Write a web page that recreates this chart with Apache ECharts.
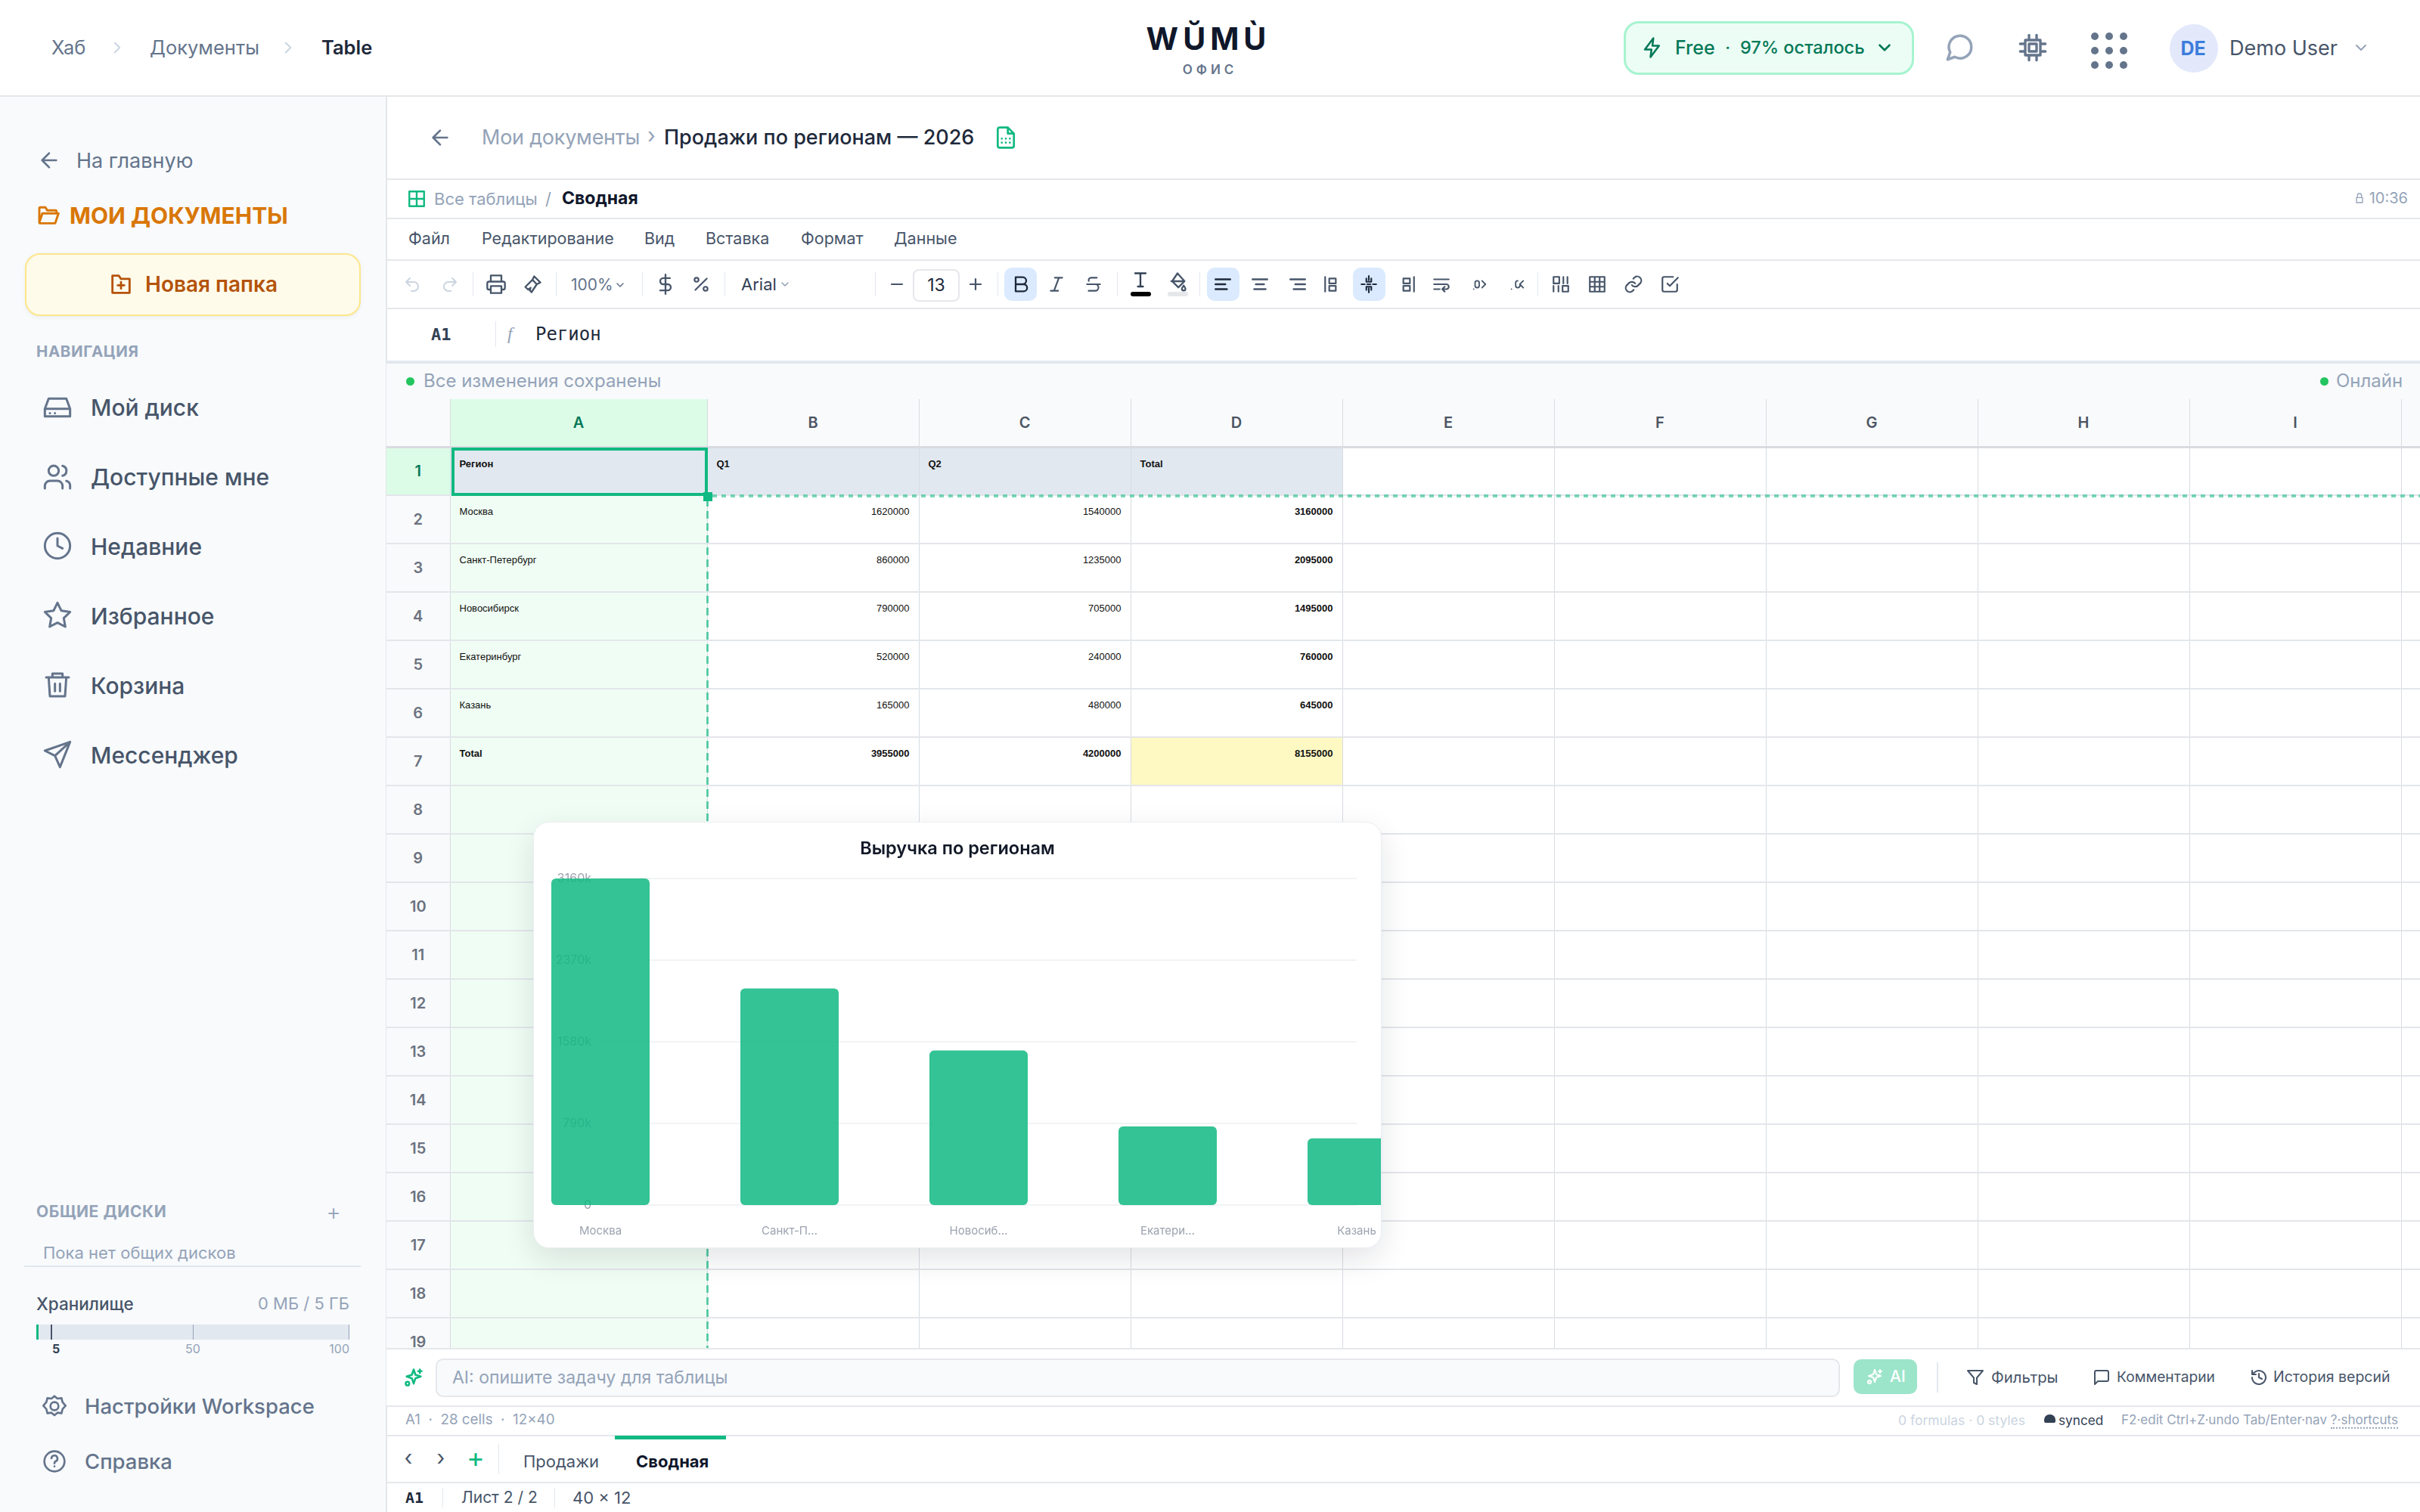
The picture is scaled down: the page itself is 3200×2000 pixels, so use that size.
<!DOCTYPE html>
<html lang="ru">
<head>
<meta charset="utf-8">
<title>Продажи по регионам — 2026</title>
<script src="https://cdn.jsdelivr.net/npm/echarts@6/dist/echarts.min.js"></script>
<style>
html,body{margin:0;padding:0;background:#fff}
body{width:3200px;height:2000px;overflow:hidden;position:relative;font-family:Inter,"Noto Sans",sans-serif;color:#475569}
.b{position:absolute;box-sizing:border-box}
.t{position:absolute;white-space:nowrap;transform:translateY(-50%);line-height:1.2}
.r{transform:translate(-100%,-50%)}
.c{transform:translate(-50%,-50%)}
.hl{position:absolute;left:0;right:0;height:2px;background:#e5e7eb}
#sheet{position:absolute;left:511px;top:528px;width:2689px;height:1256px;overflow:hidden;background:#fff}
#sheet table{border-collapse:collapse;table-layout:fixed;width:2944px}
#sheet td,#sheet th{box-sizing:border-box;height:64px;padding:0;border-right:1px solid #d8dce1;border-bottom:2px solid #e3e6ea;font-family:"Liberation Sans",Arial,sans-serif;font-size:13px;color:#111;vertical-align:top;overflow:hidden;font-weight:400}
#sheet td div{padding:13px 12px 0;line-height:16px}
#sheet th.col{height:63px;background:#f9fafb;font:600 20px Inter,sans-serif;color:#4b5563;vertical-align:middle;text-align:center;border-bottom:3px solid #d8dce1}
#sheet th.row{background:#f9fafb;font:600 20px Inter,sans-serif;color:#6b7280;vertical-align:middle;text-align:center}
#sheet th.on{background:#dcfce7;color:#047857}
#sheet td.a{background:#f0fdf4}
#sheet td.head{background:#e2e8f0;font-weight:700}
#sheet td.num{text-align:right}
#sheet td.bold{font-weight:700}
#sheet td.note{background:#fef9c3}
#card{position:absolute;left:706px;top:1088px;width:1120px;height:562px;background:#fff;border-radius:20px;overflow:hidden;box-shadow:0 0 0 1px #eceef2,0 14px 40px rgba(15,23,42,.12)}
#chart{width:1120px;height:562px}
</style>
</head>
<body>

<!-- top bar -->
<div class="hl" style="top:126px"></div>
<div class="t" style="left:68px;top:63px;font-size:25.500px;color:#64748b">Хаб</div>
<div class="t" style="left:198px;top:63px;font-size:25.500px;color:#64748b">Документы</div>
<div class="t" style="left:425px;top:63px;font-size:25.500px;font-weight:600;color:#1e293b">Table</div>
<div class="t c" style="left:1598px;top:52px;font-size:41px;font-weight:700;letter-spacing:6px;color:#0f172a">WŬMÙ</div>
<div class="t c" style="left:1600px;top:92px;font-size:17px;font-weight:600;letter-spacing:5px;color:#64748b">ОФИС</div>
<div class="b" style="left:2147px;top:28px;width:384px;height:71px;background:#ecfdf5;border:3px solid #a7f3d0;border-radius:20px"></div>
<div class="t" style="left:2215px;top:63px;font-size:25px;font-weight:500;color:#047857">Free</div>
<div class="t" style="left:2281px;top:63px;font-size:25px;color:#047857">·</div>
<div class="t" style="left:2301px;top:63px;font-size:23.500px;font-weight:500;color:#047857">97% осталось</div>
<div class="b" style="left:2869px;top:32px;width:64px;height:64px;border-radius:50%;background:#e3e9fb"></div>
<div class="t c" style="left:2900px;top:64px;font-size:25px;font-weight:700;color:#3b7ddd">DE</div>
<div class="t" style="left:2948px;top:64px;font-size:27px;color:#475569">Demo User</div>

<!-- sidebar -->
<div class="b" style="left:0;top:128px;width:512px;height:1872px;background:#f8fafc;border-right:2px solid #e5e7eb"></div>
<div class="t" style="left:101px;top:213px;font-size:27px;color:#64748b">На главную</div>
<div class="t" style="left:92px;top:285px;font-size:30px;font-weight:700;color:#d97706">МОИ ДОКУМЕНТЫ</div>
<div class="b" style="left:33px;top:335px;width:444px;height:83px;background:#fffbeb;border:2px solid #fde68a;border-radius:20px;box-shadow:0 2px 6px rgba(0,0,0,.05)"></div>
<div class="t" style="left:192px;top:377px;font-size:28px;font-weight:600;color:#b45309">Новая папка</div>
<div class="t" style="left:48px;top:465px;font-size:20.500px;font-weight:700;letter-spacing:.6px;color:#94a3b8">НАВИГАЦИЯ</div>
<div class="t" style="left:120px;top:539px;font-size:30px;font-weight:500">Мой диск</div>
<div class="t" style="left:120px;top:631px;font-size:30px;font-weight:500">Доступные мне</div>
<div class="t" style="left:120px;top:723px;font-size:30px;font-weight:500">Недавние</div>
<div class="t" style="left:120px;top:815px;font-size:30px;font-weight:500">Избранное</div>
<div class="t" style="left:120px;top:907px;font-size:30px;font-weight:500">Корзина</div>
<div class="t" style="left:120px;top:999px;font-size:30px;font-weight:500">Мессенджер</div>
<div class="t" style="left:48px;top:1603px;font-size:21px;font-weight:700;letter-spacing:.6px;color:#94a3b8">ОБЩИЕ ДИСКИ</div>
<div class="t c" style="left:441px;top:1603px;font-size:30px;font-weight:300;color:#94a3b8">+</div>
<div class="t" style="left:57px;top:1657px;font-size:22px;color:#94a3b8">Пока нет общих дисков</div>
<div class="b" style="left:32px;top:1674px;width:445px;height:2px;background:#e2e8f0"></div>
<div class="t" style="left:48px;top:1724px;font-size:22.500px;font-weight:500">Хранилище</div>
<div class="t r" style="left:462px;top:1724px;font-size:22px;color:#94a3b8">0 МБ / 5 ГБ</div>
<div class="b" style="left:48px;top:1752px;width:414px;height:20px;background:#e2e8f0"></div>
<div class="b" style="left:48px;top:1752px;width:3px;height:20px;background:#10b981"></div>
<div class="b" style="left:67px;top:1752px;width:2px;height:20px;background:#475569"></div>
<div class="b" style="left:255px;top:1752px;width:1px;height:20px;background:#94a3b8"></div>
<div class="b" style="left:461px;top:1752px;width:1px;height:20px;background:#94a3b8"></div>
<div class="t c" style="left:74px;top:1785px;font-size:16px;font-weight:700;color:#334155">5</div>
<div class="t c" style="left:255px;top:1785px;font-size:16px;color:#94a3b8">50</div>
<div class="t r" style="left:462px;top:1785px;font-size:16px;color:#94a3b8">100</div>
<div class="t" style="left:112px;top:1860px;font-size:27.500px;font-weight:500;color:#64748b">Настройки Workspace</div>
<div class="t" style="left:112px;top:1933px;font-size:27.500px;font-weight:500;color:#64748b">Справка</div>

<!-- document header -->
<div class="t" style="left:637px;top:182px;font-size:27px;letter-spacing:-.25px;color:#94a3b8">Мои документы</div>
<div class="t" style="left:856px;top:180px;font-size:28px;color:#94a3b8">›</div>
<div class="t" style="left:878px;top:182px;font-size:27px;font-weight:500;color:#1e293b">Продажи по регионам — 2026</div>
<div class="b" style="left:511px;top:236px;right:0;height:2px;background:#e5e7eb"></div>
<div class="t" style="left:574px;top:263px;font-size:22px;color:#94a3b8">Все таблицы</div>
<div class="t" style="left:721px;top:263px;font-size:22px;color:#94a3b8">/</div>
<div class="t" style="left:743px;top:263px;font-size:23px;font-weight:700;color:#0f172a">Сводная</div>
<div class="t r" style="left:3184px;top:262px;font-size:20px;color:#94a3b8">10:36</div>
<div class="b" style="left:511px;top:288px;right:0;height:2px;background:#e5e7eb"></div>
<div class="t" style="left:540px;top:316px;font-size:21.500px">Файл</div>
<div class="t" style="left:637px;top:316px;font-size:21.500px">Редактирование</div>
<div class="t" style="left:852px;top:316px;font-size:21.500px">Вид</div>
<div class="t" style="left:933px;top:316px;font-size:21.500px">Вставка</div>
<div class="t" style="left:1059px;top:316px;font-size:21.500px">Формат</div>
<div class="t" style="left:1182px;top:316px;font-size:21.500px">Данные</div>
<div class="b" style="left:511px;top:343px;right:0;height:2px;background:#e5e7eb"></div>
<div class="t" style="left:755px;top:377px;font-size:21px;color:#64748b">100%</div>
<div class="t" style="left:980px;top:376px;font-size:22px;color:#334155">Arial</div>
<div class="b" style="left:1207px;top:356px;width:62px;height:43px;border:2px solid #e5e7eb;border-radius:8px"></div>
<div class="t c" style="left:1238px;top:378px;font-size:23px;color:#1e293b">13</div>
<div class="b" style="left:1328px;top:354px;width:43px;height:44px;background:#dbeafe;border-radius:10px"></div>
<div class="b" style="left:1596px;top:354px;width:43px;height:44px;background:#dbeafe;border-radius:10px"></div>
<div class="b" style="left:1789px;top:354px;width:43px;height:44px;background:#dbeafe;border-radius:10px"></div>
<div class="b" style="left:511px;top:407px;right:0;height:2px;background:#e5e7eb"></div>
<div class="t" style="left:570px;top:442px;font:700 22px 'DejaVu Sans Mono',monospace;color:#334155;transform:translateY(-50%)">A1</div>
<div class="b" style="left:655px;top:425px;width:1px;height:34px;background:#e2e8f0"></div>
<div class="t" style="left:671px;top:441px;font:italic 24px 'Liberation Serif',serif;color:#94a3b8;transform:translateY(-50%)">f</div>
<div class="t" style="left:708px;top:442px;font:24px 'DejaVu Sans Mono',monospace;color:#1e293b;transform:translateY(-50%)">Регион</div>
<div class="b" style="left:511px;top:477px;right:0;height:51px;background:#f8fafc;border-top:4px solid #e2e8f0"></div>
<div class="b" style="left:537px;top:499px;width:11px;height:11px;border-radius:50%;background:#22c55e"></div>
<div class="t" style="left:560px;top:504px;font-size:24px;color:#94a3b8">Все изменения сохранены</div>
<div class="b" style="left:3068px;top:499px;width:11px;height:11px;border-radius:50%;background:#22c55e"></div>
<div class="t" style="left:3089px;top:504px;font-size:24px;color:#94a3b8">Онлайн</div>

<!-- sheet -->
<div id="sheet"></div>
<div class="b" style="left:597px;top:592px;width:339px;height:64px;border:4px solid #10b981"></div>
<div class="b" style="left:934px;top:660px;width:3px;height:1124px;background:repeating-linear-gradient(to bottom,rgba(16,185,129,.65) 0 10px,transparent 10px 16px)"></div>
<div class="b" style="left:942px;top:654px;right:0;height:4px;background:repeating-linear-gradient(to right,rgba(16,185,129,.55) 0 6px,transparent 6px 12px)"></div>
<div class="b" style="left:930px;top:651px;width:12px;height:12px;background:#10b981"></div>

<!-- chart card -->
<div id="card"><div id="chart"></div></div>

<!-- ai row -->
<div class="b" style="left:511px;top:1783px;right:0;height:78px;background:#fff;border-top:2px solid #e5e7eb;border-bottom:2px solid #e5e7eb"></div>
<div class="b" style="left:576px;top:1797px;width:1857px;height:51px;background:#f8fafc;border:2px solid #e5e7eb;border-radius:10px"></div>
<div class="t" style="left:598px;top:1823px;font-size:23px;color:#94a3b8">AI: опишите задачу для таблицы</div>
<div class="b" style="left:2451px;top:1798px;width:84px;height:46px;background:#9ce5cb;border-radius:10px"></div>
<div class="t" style="left:2499px;top:1821px;font-size:21px;font-weight:500;color:#fff">AI</div>
<div class="b" style="left:2561px;top:1802px;width:2px;height:40px;background:#e2e8f0"></div>
<div class="t" style="left:2633px;top:1822px;font-size:20.300px">Фильтры</div>
<div class="t" style="left:2799px;top:1822px;font-size:19.200px">Комментарии</div>
<div class="t" style="left:3006px;top:1822px;font-size:19.500px">История версий</div>

<!-- status row -->
<div class="t" style="left:536px;top:1878px;font-size:18.800px;color:#94a3b8">A1 &nbsp;·&nbsp; 28 cells &nbsp;·&nbsp; 12×40</div>
<div class="t" style="left:2510px;top:1878px;font-size:17.500px;color:#cbd5e1">0 formulas · 0 styles</div>
<div class="b" style="left:2703px;top:1871px;width:15px;height:11px;background:#334155;border-radius:7px 7px 2px 2px"></div>
<div class="t" style="left:2722px;top:1879px;font-size:17.200px;color:#334155">synced</div>
<div class="t" style="left:2805px;top:1878px;font-size:17.050px;color:#94a3b8">F2·edit Ctrl+Z·undo Tab/Enter·nav <span style="border-bottom:2px dotted #94a3b8">?·shortcuts</span></div>
<div class="b" style="left:511px;top:1898px;right:0;height:2px;background:#e5e7eb"></div>

<!-- tabs -->
<div class="b" style="left:813px;top:1899px;width:147px;height:5px;background:#10b981"></div>
<div class="t c" style="left:540px;top:1929px;font-size:28px;color:#475569">‹</div>
<div class="t c" style="left:583px;top:1929px;font-size:28px;color:#475569">›</div>
<div class="t c" style="left:629px;top:1929px;font-size:36px;color:#10b981">+</div>
<div class="b" style="left:659px;top:1910px;width:1px;height:40px;background:#e2e8f0"></div>
<div class="t" style="left:692px;top:1933px;font-size:22px">Продажи</div>
<div class="t" style="left:841px;top:1933px;font-size:22px;font-weight:700;color:#0f172a">Сводная</div>
<div class="b" style="left:511px;top:1960px;right:0;height:2px;background:#e5e7eb"></div>
<div class="t" style="left:536px;top:1981px;font:700 20px 'DejaVu Sans Mono',monospace;color:#1e293b;transform:translateY(-50%)">A1</div>
<div class="b" style="left:585px;top:1968px;width:1px;height:26px;background:#e2e8f0"></div>
<div class="t" style="left:610px;top:1981px;font-size:21px">Лист 2 / 2</div>
<div class="b" style="left:733px;top:1968px;width:1px;height:26px;background:#e2e8f0"></div>
<div class="t" style="left:757px;top:1981px;font-size:22px">40 × 12</div>

<div id="icons"></div>

<script>
// chart values
var categories = ['Москва', 'Санкт-Петербург', 'Новосибирск', 'Екатеринбург', 'Казань'];
var q1 = [1620000, 860000, 790000, 520000, 165000, 3955000];
var q2 = [1540000, 1235000, 705000, 240000, 480000, 4200000];
var totals = [3160000, 2095000, 1495000, 760000, 645000];
var grandTotal = 8155000;
var yTicks = [0, 790000, 1580000, 2370000, 3160000];
var columns = ['A', 'B', 'C', 'D', 'E', 'F', 'G', 'H', 'I', 'J'];

// sheet
function buildSheet() {
	var html = '<table><colgroup><col style="width:84px"><col style="width:340px">';
	for (var c = 1; c < columns.length; c++) html += '<col style="width:280px">';
	html += '</colgroup><tr><th class="col"></th>';
	columns.forEach(function (name, i) {
		html += '<th class="col' + (i == 0 ? ' on' : '') + '">' + (i < 9 ? name : '') + '</th>';
	});
	html += '</tr>';
	for (var r = 1; r <= 19; r++) {
		html += '<tr><th class="row' + (r == 1 ? ' on' : '') + '">' + r + '</th>';
		var cells = ['', '', '', ''];
		var cls = ['a', 'num', 'num', 'num bold'];
		if (r == 1) {
			cells = ['Регион', 'Q1', 'Q2', 'Total'];
			cls = ['head', 'head', 'head', 'head'];
		} else if (r <= 6) {
			cells = [categories[r - 2], q1[r - 2], q2[r - 2], totals[r - 2]];
		} else if (r == 7) {
			cells = ['Total', q1[5], q2[5], grandTotal];
			cls = ['a bold', 'num bold', 'num bold', 'num bold note'];
		}
		for (var i = 0; i < columns.length; i++) {
			html += '<td class="' + (i < 4 ? cls[i] : '') + '"><div>' + (i < 4 ? cells[i] : '') + '</div></td>';
		}
		html += '</tr>';
	}
	document.getElementById('sheet').innerHTML = html + '</table>';
}
buildSheet();

// outline icons, 24 box
var paths = {
	left: 'M19 12H5M12 19l-7-7 7-7',
	right: 'M9 6l6 6-6 6',
	down: 'M6 9l6 6 6-6',
	folder: 'M3 19V5a1 1 0 0 1 1-1h5l2 3h8a1 1 0 0 1 1 1v2M3 19l3-9h16l-3 9a1 1 0 0 1-1 .8H4a1 1 0 0 1-1-.8z',
	folderplus: 'M4 4h6l2 3h8v13H4zM12 10v6M9 13h6',
	drive: 'M2 13h20M5 5h14l3 8v6H2v-6zM6 16.500h.01M10 16.500h.01',
	users: 'M16 21v-2a4 4 0 0 0-4-4H6a4 4 0 0 0-4 4v2M9 3a4 4 0 1 0 0 8 4 4 0 0 0 0-8M22 21v-2a4 4 0 0 0-3-3.900M16 3.100a4 4 0 0 1 0 7.800',
	clock: 'M12 2a10 10 0 1 0 0 20 10 10 0 0 0 0-20M12 6v6l4 2',
	star: 'M12 2l3.100 6.300 6.900 1-5 4.900 1.200 6.800-6.200-3.200L5.800 21 7 14.200 2 9.300l6.900-1z',
	trash: 'M3 6h18M8 6V3h8v3M5 6l1 15h12l1-15M10 11v6M14 11v6',
	send: 'M22 2L2 9l8 4 4 9zM22 2L10 13',
	gear: 'M12 8a4 4 0 1 0 0 8 4 4 0 0 0 0-8M12 2l3 2.500 4-.5 1 4 3 3.500-3 3.500-1 4-4-.5-3 2.500-3-2.500-4 .5-1-4-3-3.500 3-3.500 1-4 4 .5z',
	help: 'M12 2a10 10 0 1 0 0 20 10 10 0 0 0 0-20M9 9a3 3 0 1 1 4 3c-1 .5-1 1-1 2M12 17h.01',
	bolt: 'M13 2L4 14h7l-1 8 9-12h-7z',
	chat: 'M21 11.500a8.500 8.500 0 0 1-12.500 7.500L3 21l2-5.500A8.500 8.500 0 1 1 21 11.500z',
	chip: 'M6 6h12v12H6zM9 9h6v6H9zM9 2v4M15 2v4M9 18v4M15 18v4M2 9h4M2 15h4M18 9h4M18 15h4',
	sheetfile: 'M14 2H6a2 2 0 0 0-2 2v16a2 2 0 0 0 2 2h12a2 2 0 0 0 2-2V8zM14 2v6h6M8 13h.01M12 13h.01M16 13h.01M8 17h.01M12 17h.01M16 17h.01',
	table: 'M3 3h18v18H3zM3 9h18M3 15h18M9 3v18M15 3v18',
	grid: 'M3 3h18v18H3zM3 12h18M12 3v18',
	lock: 'M6 11h12v10H6zM8 11V7a4 4 0 0 1 8 0v4',
	undo: 'M9 14L4 9l5-5M4 9h10a6 6 0 0 1 0 12h-3',
	redo: 'M15 14l5-5-5-5M20 9H10a6 6 0 0 0 0 12h3',
	print: 'M6 9V2h12v7M6 18H4a2 2 0 0 1-2-2v-5a2 2 0 0 1 2-2h16a2 2 0 0 1 2 2v5a2 2 0 0 1-2 2h-2M6 14h12v8H6z',
	paint: 'M14 3l7 7-4 2-5-5zM12 7l5 5-6 9-2-2 1-3-3 2-3-3z',
	dollar: 'M12 1v22M17 5H9.500a3.500 3.500 0 0 0 0 7h5a3.500 3.500 0 0 1 0 7H6',
	percent: 'M19 5L5 19M6.500 4a2.500 2.500 0 1 0 0 5 2.500 2.500 0 0 0 0-5M17.500 15a2.500 2.500 0 1 0 0 5 2.500 2.500 0 0 0 0-5',
	minus: 'M5 12h14',
	plus: 'M12 5v14M5 12h14',
	bold: 'M6 4h8a4 4 0 0 1 0 8H6zM6 12h9a4 4 0 0 1 0 8H6z',
	italic: 'M19 4h-9M14 20H5M15 4L9 20',
	strike: 'M16 4H9a3 3 0 0 0-2.800 4M14 12a4 4 0 0 1 0 8H6M4 12h16',
	textt: 'M6 3h12M12 3v15M9 18h6',
	fill: 'M12 3l8 9-7 7-7-7zM19 17c1 1.500 2 2.500 2 3.500a2 2 0 0 1-4 0c0-1 1-2 2-3.500M5 12h15',
	aleft: 'M21 6H3M15 12H3M17 18H3',
	acenter: 'M21 6H3M17 12H7M19 18H5',
	aright: 'M21 6H3M21 12H9M21 18H7',
	vtop: 'M3 3v18M8 5h8v6H8zM8 14h8v6H8z',
	vmid: 'M12 2v5M12 17v5M9 5v4h6V5M9 19v-4h6v4M3 12h4M10 12h4M17 12h4',
	vbot: 'M21 3v18M8 5h8v6H8zM8 14h8v6H8z',
	wrap: 'M3 6h18M3 12h15a3 3 0 1 1 0 6h-4M3 18h7M16 15l-3 3 3 3',
	incr: 'M4 19h.01M9 7a3 3 0 0 1 3 3v4a3 3 0 0 1-6 0v-4a3 3 0 0 1 3-3M16 7l5 5-5 5',
	decr: 'M4 19h.01M21 7l-5 5 5 5M13 7a3 3 0 0 0-3 3v4a3 3 0 0 0 6 0',
	merge: 'M3 3h7v8H3zM14 14h7v7h-7zM15 3v8M20 3v8M3 14v7M9 14v7',
	link: 'M10 13a5 5 0 0 0 7.500.5l3-3a5 5 0 0 0-7-7l-1.700 1.700M14 11a5 5 0 0 0-7.500-.5l-3 3a5 5 0 0 0 7 7l1.700-1.700',
	check: 'M9 11l3 3L22 4M21 12v7a2 2 0 0 1-2 2H5a2 2 0 0 1-2-2V5a2 2 0 0 1 2-2h11',
	spark: 'M12 3l2 6 6 2-6 2-2 6-2-6-6-2 6-2zM19 3v4M17 5h4M5 17a2 2 0 1 0 0 4 2 2 0 0 0 0-4',
	filter: 'M22 3H2l8 9.500V19l4 2v-8.500z',
	comment: 'M21 15a2 2 0 0 1-2 2H7l-4 4V5a2 2 0 0 1 2-2h14a2 2 0 0 1 2 2z',
	history: 'M3 12a9 9 0 1 0 3-6.700L3 8M3 3v5h5M12 7v5l4 2'
};
// name, centre x, centre y, size, colour, stroke width
var iconList = [
	['right', 155, 63, 26, '#cbd5e1', 1.800], ['right', 381, 63, 26, '#cbd5e1', 1.800],
	['bolt', 2185, 63, 30, '#047857', 2], ['down', 2492, 63, 26, '#047857', 2.400],
	['chat', 2591, 63, 42, '#94a3b8', 2], ['chip', 2688, 63, 40, '#64748b', 2], ['down', 3122, 63, 24, '#94a3b8', 2],
	['left', 65, 212, 32, '#64748b', 2], ['folder', 64, 285, 32, '#d97706', 2.200], ['folderplus', 160, 376, 34, '#b45309', 2],
	['drive', 76, 539, 40, '#64748b', 1.800], ['users', 76, 631, 40, '#64748b', 1.800], ['clock', 76, 722, 40, '#64748b', 1.800],
	['star', 76, 814, 40, '#64748b', 1.800], ['trash', 76, 906, 40, '#64748b', 1.800], ['send', 76, 998, 40, '#64748b', 1.800],
	['gear', 72, 1860, 32, '#64748b', 2], ['help', 72, 1933, 32, '#64748b', 2],
	['left', 582, 182, 32, '#64748b', 2], ['sheetfile', 1330, 182, 32, '#10b981', 2],
	['grid', 551, 263, 26, '#10b981', 2.200], ['lock', 3120, 262, 16, '#94a3b8', 2],
	['undo', 545, 376, 24, '#cbd5e1', 2], ['redo', 595, 376, 24, '#cbd5e1', 2], ['print', 656, 376, 28, '#475569', 2], ['paint', 704, 376, 28, '#475569', 2],
	['down', 820, 377, 16, '#64748b', 2.400], ['dollar', 880, 376, 28, '#475569', 2], ['percent', 927, 376, 26, '#475569', 2], ['down', 1038, 376, 16, '#94a3b8', 2.400],
	['minus', 1186, 376, 24, '#475569', 2.200], ['plus', 1290, 376, 24, '#475569', 2.200],
	['bold', 1350, 376, 28, '#1e293b', 2], ['italic', 1397, 376, 26, '#475569', 2], ['strike', 1446, 376, 26, '#475569', 2],
	['textt', 1508, 372, 28, '#334155', 2], ['fill', 1557, 372, 28, '#475569', 2],
	['aleft', 1617, 376, 26, '#1e293b', 2.200], ['acenter', 1666, 376, 26, '#475569', 2.200], ['aright', 1716, 376, 26, '#475569', 2.200],
	['vtop', 1762, 376, 26, '#475569', 2], ['vmid', 1810, 376, 26, '#1e293b', 2], ['vbot', 1860, 376, 26, '#475569', 2],
	['wrap', 1906, 376, 26, '#475569', 2], ['incr', 1956, 376, 22, '#475569', 2], ['decr', 2006, 376, 22, '#475569', 2],
	['merge', 2064, 376, 26, '#475569', 2], ['table', 2112, 376, 26, '#475569', 2], ['link', 2160, 376, 26, '#475569', 2], ['check', 2208, 376, 26, '#475569', 2],
	['spark', 547, 1822, 28, '#10b981', 2.200], ['spark', 2479, 1821, 24, '#fff', 2.200],
	['filter', 2612, 1822, 24, '#475569', 2], ['comment', 2779, 1822, 24, '#475569', 2], ['history', 2987, 1822, 24, '#475569', 2]
];
function buildIcons() {
	var html = '';
	iconList.forEach(function (ic) {
		html += '<svg style="position:absolute;left:' + (ic[1] - ic[3] / 2) + 'px;top:' + (ic[2] - ic[3] / 2) + 'px" width="' + ic[3] + '" height="' + ic[3] +
			'" viewBox="0 0 24 24" fill="none" stroke="' + ic[4] + '" stroke-width="' + ic[5] + '" stroke-linecap="round" stroke-linejoin="round"><path d="' + paths[ic[0]] + '"/></svg>';
	});
	// app launcher dots
	[48, 67, 86].forEach(function (y) {
		[2770, 2789, 2808].forEach(function (x) {
			html += '<div class="b" style="left:' + (x - 5) + 'px;top:' + (y - 5) + 'px;width:10px;height:10px;border-radius:50%;background:#64748b"></div>';
		});
	});
	// text colour and fill swatches
	html += '<div class="b" style="left:1495px;top:386px;width:27px;height:6px;border-radius:3px;background:#000"></div>';
	html += '<div class="b" style="left:1544px;top:386px;width:27px;height:6px;border-radius:3px;background:#e5e7eb"></div>';
	// toolbar separators
	[625, 735, 849, 958, 1157, 1319, 1477, 1586, 2033].forEach(function (x) {
		html += '<div class="b" style="left:' + x + 'px;top:360px;width:1px;height:32px;background:#e2e8f0"></div>';
	});
	document.getElementById('icons').innerHTML = html;
}
buildIcons();

// chart
var chart = echarts.init(document.getElementById('chart'));
chart.setOption({
	animation: false,
	title: {
		text: 'Выручка по регионам',
		left: 'center',
		top: 18,
		textStyle: { fontFamily: 'Inter', fontSize: 23.500, fontWeight: 600, color: '#111827' }
	},
	grid: { left: 88, right: 32, top: 74, bottom: 56 },
	xAxis: {
		type: 'category',
		data: categories,
		boundaryGap: false,
		axisLine: { show: false },
		axisTick: { show: false },
		axisLabel: {
			interval: 0,
			margin: 27,
			fontFamily: 'Inter',
			fontSize: 15,
			color: '#9ca3af',
			formatter: function (v) { return v.length > 7 ? v.slice(0, 7) + '…' : v; }
		}
	},
	yAxis: {
		type: 'value',
		min: yTicks[0],
		max: yTicks[yTicks.length - 1],
		interval: yTicks[1],
		axisLine: { show: false },
		axisTick: { show: false },
		axisLabel: {
			margin: 12,
			fontFamily: 'Inter',
			fontSize: 16,
			color: '#9ca3af',
			formatter: function (v) { return v == 0 ? '0' : (v / 1000) + 'k'; }
		},
		splitLine: { lineStyle: { color: '#f1f3f5', width: 2 } }
	},
	series: [{
		type: 'bar',
		data: totals,
		barWidth: 130,
		clip: false,
		itemStyle: { color: '#10b981', opacity: 0.85, borderRadius: 6 }
	}]
});
</script>
</body>
</html>
